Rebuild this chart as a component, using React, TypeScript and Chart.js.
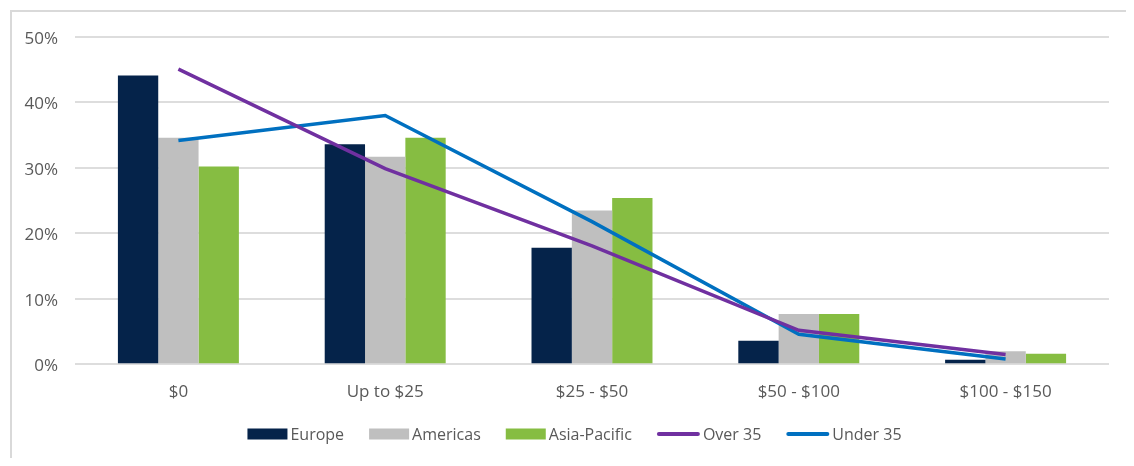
import React, { useEffect, useRef } from "react";
import { Chart, registerables } from "chart.js";

Chart.register(...registerables);

const categories = ["$0", "Up to $25", "$25 - $50", "$50 - $100", "$100 - $150"];
const europe = [44.1, 33.6, 17.8, 3.6, 0.7];
const americas = [34.6, 31.7, 23.5, 7.7, 2.0];
const asiaPacific = [30.2, 34.6, 25.4, 7.7, 1.6];
const over35 = [45.1, 29.9, 18.1, 5.2, 1.5];
const under35 = [34.2, 38.0, 21.8, 4.6, 0.8];
const yTicks = [0, 10, 20, 30, 40, 50];

const FONT = "'Open Sans', sans-serif";
const TEXT = "#595959";

const customLegend = {
  id: "customLegend",
  afterDraw(chart: any) {
    const ctx = chart.ctx;
    const items = chart.data.datasets.map((d: any) => ({
      text: d.label,
      color: d.type === "line" ? d.borderColor : d.backgroundColor,
      isLine: d.type === "line",
    }));
    ctx.save();
    ctx.font = `16px ${FONT}`;
    const markerW = 40;
    const lineW = 43;
    const gapText = 3;
    const gapItem = 25;
    let total = 0;
    const widths = items.map((it: any) => {
      const w = (it.isLine ? lineW : markerW) + gapText + ctx.measureText(it.text).width;
      total += w;
      return w;
    });
    total += gapItem * (items.length - 1);
    let x = chart.width / 2 + 7.5 - total / 2;
    const cy = 426;
    items.forEach((it: any, i: number) => {
      if (it.isLine) {
        ctx.strokeStyle = it.color;
        ctx.lineWidth = 4;
        ctx.lineCap = "round";
        ctx.beginPath();
        ctx.moveTo(x + 2, cy);
        ctx.lineTo(x + lineW - 2, cy);
        ctx.stroke();
      } else {
        ctx.fillStyle = it.color;
        ctx.fillRect(x, cy - 5.5, markerW, 11);
      }
      ctx.fillStyle = TEXT;
      ctx.textBaseline = "middle";
      ctx.textAlign = "left";
      ctx.fillText(it.text, x + (it.isLine ? lineW : markerW) + gapText, cy + 1.5);
      x += widths[i] + gapItem;
    });
    ctx.restore();
  },
};

export default function App() {
  const ref = useRef<HTMLCanvasElement | null>(null);
  useEffect(() => {
    if (!ref.current) return;
    const chart = new Chart(ref.current, {
      type: "bar",
      data: {
        labels: categories,
        datasets: [
          { type: "bar", label: "Europe", data: europe, backgroundColor: "#05234A", order: 1 },
          { type: "bar", label: "Americas", data: americas, backgroundColor: "#BFBFBF", order: 1 },
          { type: "bar", label: "Asia-Pacific", data: asiaPacific, backgroundColor: "#86BD42", order: 1 },
          {
            type: "line", label: "Over 35", data: over35, borderColor: "#7030A0", backgroundColor: "#7030A0",
            borderWidth: 3.5, pointRadius: 0, tension: 0, order: 0,
          },
          {
            type: "line", label: "Under 35", data: under35, borderColor: "#0070C0", backgroundColor: "#0070C0",
            borderWidth: 3.5, pointRadius: 0, tension: 0, order: 0,
          },
        ] as any,
      },
      options: {
        animation: false,
        responsive: false,
        devicePixelRatio: 1,
        layout: { padding: { left: 0, top: 29, right: 17, bottom: 0 } },
        datasets: { bar: { categoryPercentage: 0.585, barPercentage: 1 } } as any,
        plugins: { legend: { display: false }, tooltip: { enabled: false } },
        scales: {
          x: {
            grid: { display: false },
            border: { display: false },
            ticks: { color: TEXT, font: { family: FONT, size: 17 }, padding: 10, maxRotation: 0 },
            afterFit: (s: any) => { s.height = 93.7; },
          },
          y: {
            min: 0,
            max: 50,
            afterBuildTicks: (s: any) => { s.ticks = yTicks.map((v) => ({ value: v })); },
            grid: { color: "#DDDDDD", lineWidth: 2, drawTicks: false },
            border: { display: false },
            ticks: {
              color: TEXT,
              font: { family: FONT, size: 17 },
              padding: 17,
              labelOffset: 2,
              callback: (v: any) => `${v}%`,
            },
            afterFit: (s: any) => { s.width = 67; },
          },
        },
      },
      plugins: [customLegend],
    });
    return () => chart.destroy();
  }, []);
  return (
    <div style={{ position: "relative", width: 1118, height: 450, overflow: "hidden" }}>
      <div
        style={{
          position: "absolute", left: 2, top: 2, right: 0, bottom: 0,
          borderTop: "2px solid #D9D9D9", borderLeft: "2px solid #D9D9D9",
        }}
      />
      <canvas ref={ref} width={1118} height={450} style={{ position: "absolute", left: 0, top: 0 }} />
    </div>
  );
}
